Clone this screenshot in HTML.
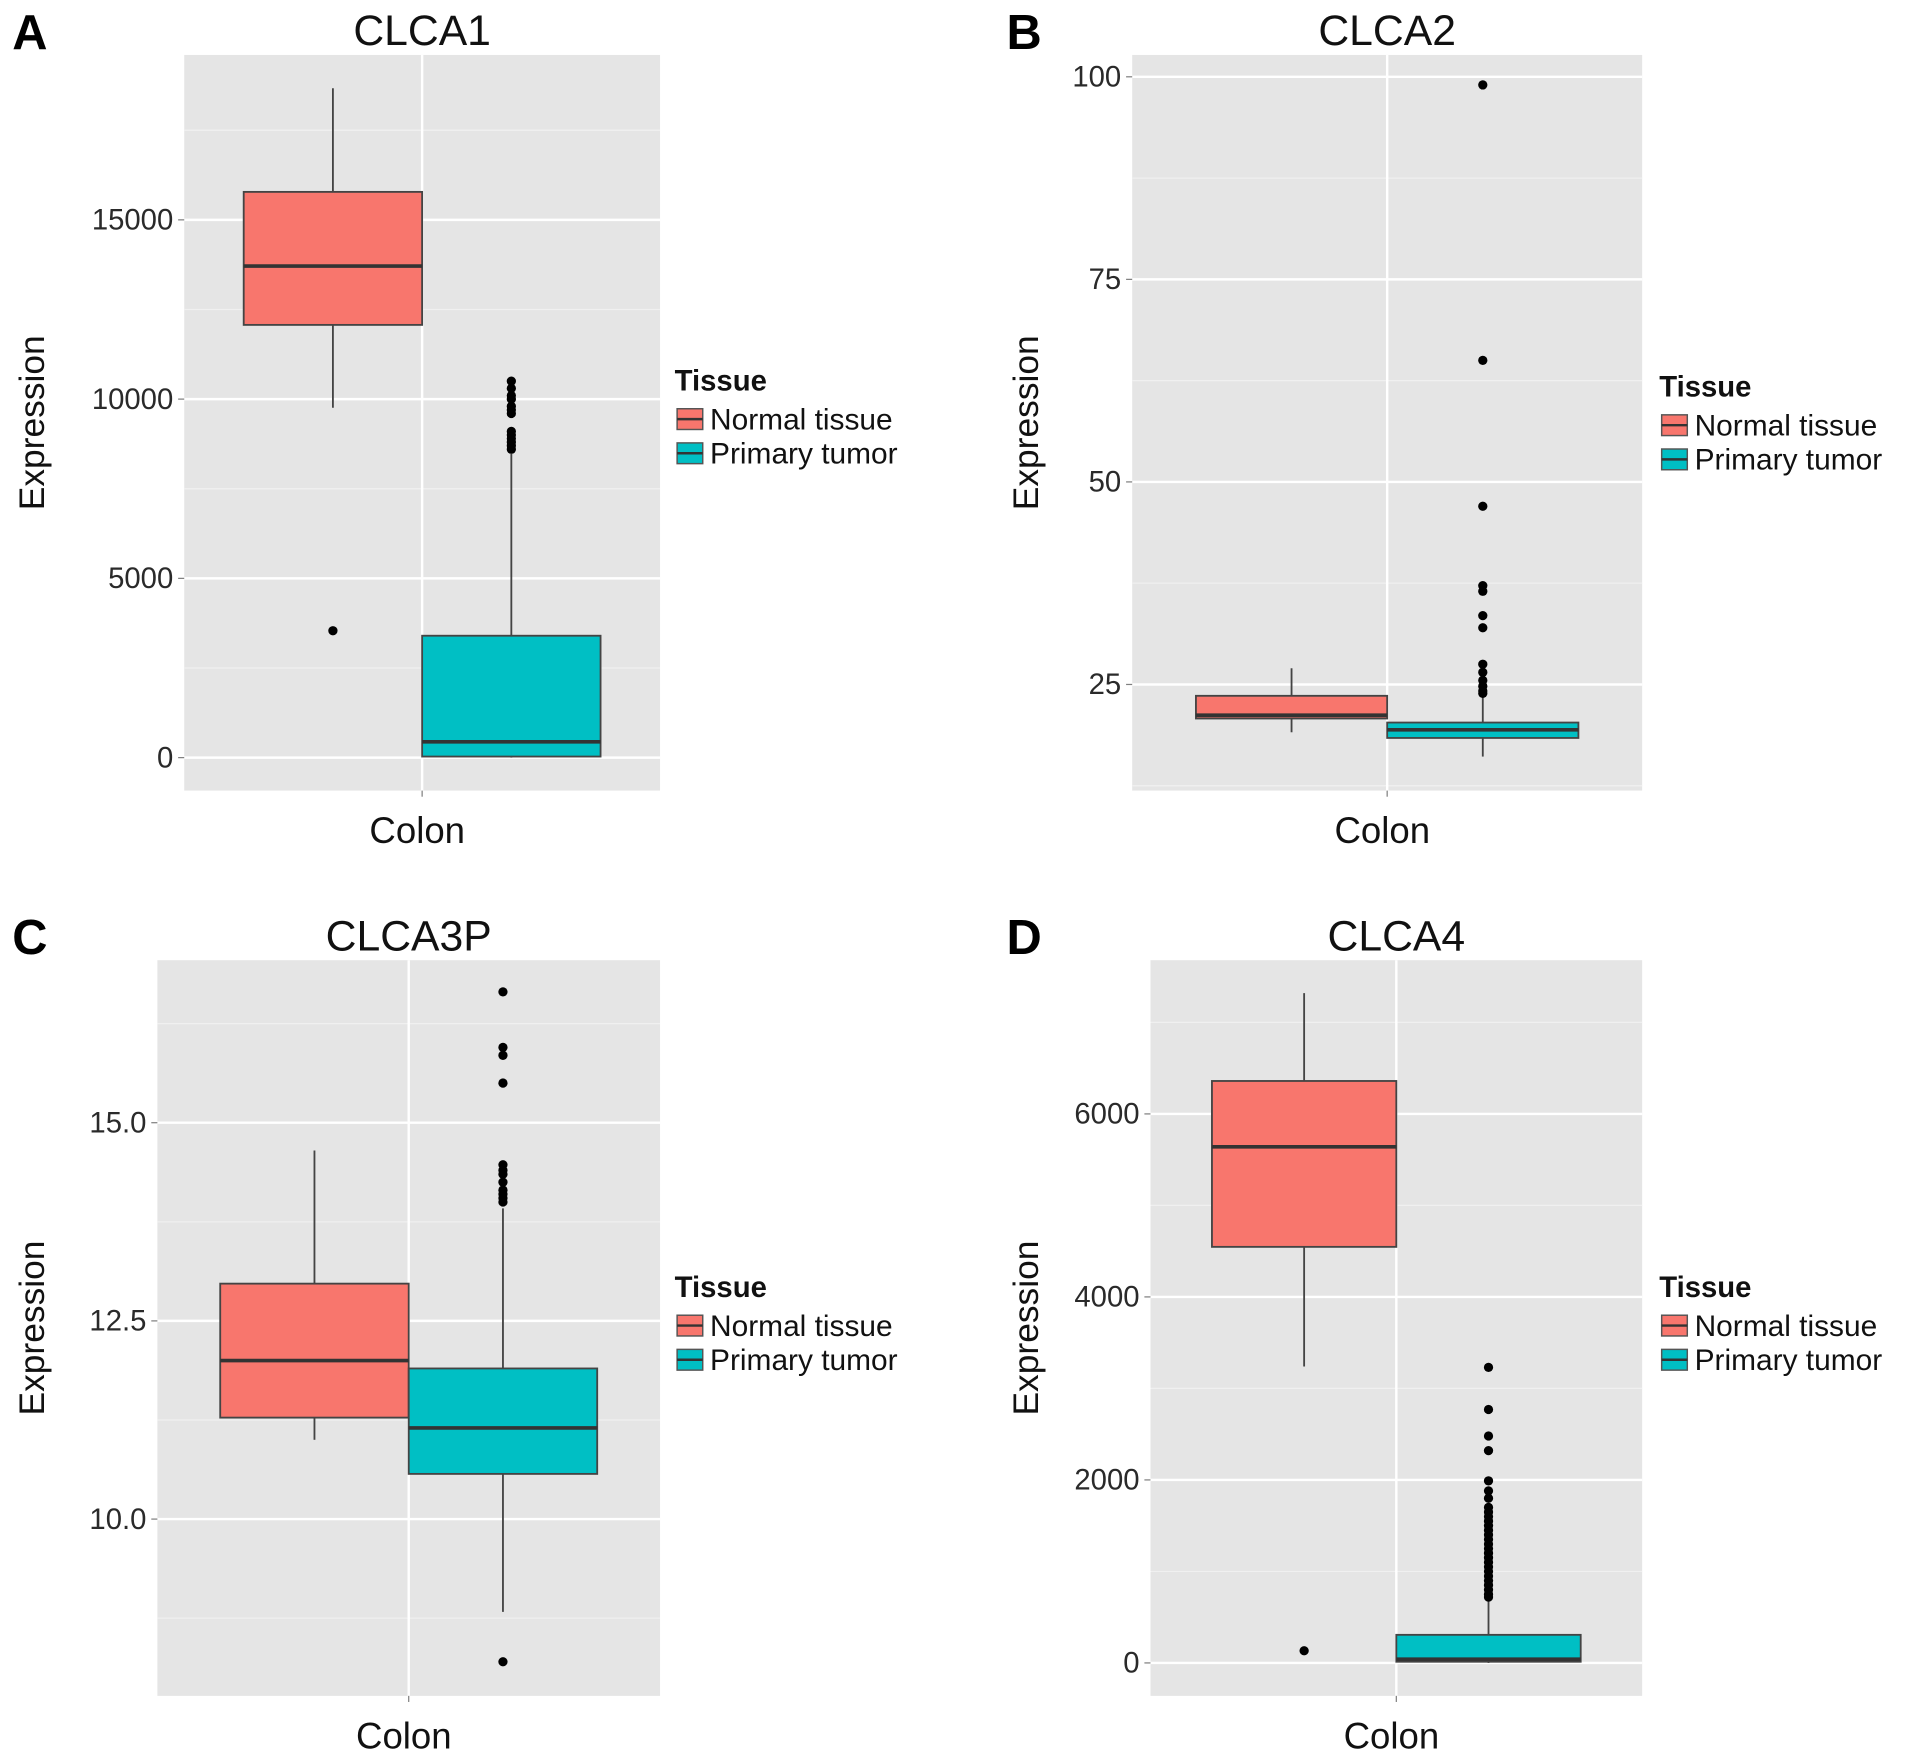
<!DOCTYPE html>
<html><head><meta charset="utf-8"><style>
html,body{margin:0;padding:0;background:#fff}
svg{display:block}
text{font-family:"Liberation Sans","DejaVu Sans",sans-serif}
</style></head><body>
<svg id="fig" width="1913" height="1763" viewBox="0 0 1568 1445" xmlns="http://www.w3.org/2000/svg"></svg>
<script>
// ---- data ----
const panelLetters = ["A","B","C","D"];
const panelTitles = ["CLCA1","CLCA2","CLCA3P","CLCA4"];
const seriesNames = ["Normal tissue","Primary tumor"];
const categories = ["Colon"];
// box stats [whiskerLow, Q1, median, Q3, whiskerHigh]
const normalStats = [
  [9760,12070,13710,15780,18670],
  [19.1,20.8,21.2,23.6,27.0],
  [11.0,11.28,12.0,12.97,14.65],
  [3240,4547,5640,6360,7320]
];
const tumorStats = [
  [0,30,440,3400,8470],
  [16.1,18.4,19.4,20.3,23.6],
  [8.83,10.57,11.15,11.9,13.92],
  [0,13,40,307,707]
];
const normalOutliers = [[3540],[],[],[133]];
const tumorOutliers = [
  [8600,8700,8800,8900,9000,9100,9600,9700,9800,10000,10100,10300,10500],
  [99,65,47,37.2,36.5,33.5,32,27.5,26.5,25.5,24.8,24.2,23.9],
  [16.65,15.95,15.85,15.5,14.47,14.4,14.35,14.25,14.15,14.1,14.05,14.0,8.2],
  [3230,2770,2480,2320,1990,1880,1800,1700,1650,1600,1550,1500,1450,1400,1350,1300,1250,1200,1150,1100,1050,1000,950,900,850,800,750,720]
];
const yTicks = [[0,5000,10000,15000],[25,50,75,100],[10,12.5,15],[0,2000,4000,6000]];
const yTickLabels = [["0","5000","10000","15000"],["25","50","75","100"],["10.0","12.5","15.0"],["0","2000","4000","6000"]];
const yDomains = [[-920,19600],[11.9,102.7],[7.77,17.05],[-360,7680]];
// ---- layout ----
const layouts = [
  {x0:151,x1:541,y0:45,y1:648,letterX:10,legX:553,legY:320},
  {x0:928,x1:1346,y0:45,y1:648,letterX:825,legX:1360,legY:325},
  {x0:129,x1:541,y0:787,y1:1390,letterX:10,legX:553,legY:1063},
  {x0:943,x1:1346,y0:787,y1:1390,letterX:825,legX:1360,legY:1063}
];
const fills = ["#F8766D","#00BFC4"];
const NS="http://www.w3.org/2000/svg";
const svg=document.getElementById('fig');
function mk(tag,attrs,parent,txt){const e=document.createElementNS(NS,tag);for(const k in attrs)e.setAttribute(k,attrs[k]);if(txt!==undefined)e.textContent=txt;(parent||svg).appendChild(e);return e;}

panelLetters.forEach((L,p)=>{
  const lay=layouts[p];const [d0,d1]=yDomains[p];
  const y=v=>lay.y1-(v-d0)/(d1-d0)*(lay.y1-lay.y0);
  const cx=(lay.x0+lay.x1)/2;
  const g=mk('g',{});
  
  
  const bg=mk('rect',{x:lay.x0,y:lay.y0,width:lay.x1-lay.x0,height:lay.y1-lay.y0,fill:'#E5E5E5'},g);
  
  
  const t=yTicks[p];const step=t[1]-t[0];
  for(let v=t[0]-step/2;v<=d1;v+=step){if(v<d0)continue;const yy=y(v);
    const m=mk('line',{x1:lay.x0,x2:lay.x1,y1:yy,y2:yy,stroke:'#F0F0F0','stroke-width':1},g);
    
    }
  t.forEach((v,i)=>{const yy=y(v);
    const gl=mk('line',{x1:lay.x0,x2:lay.x1,y1:yy,y2:yy,stroke:'#fff','stroke-width':2},g);
    
    
    const tk=mk('line',{x1:lay.x0-5,x2:lay.x0,y1:yy,y2:yy,stroke:'#7f7f7f','stroke-width':1},g);
    
    
    const tl=mk('text',{x:lay.x0-9,y:yy+8,'text-anchor':'end','font-size':24,fill:'#2a2a2a'},g,yTickLabels[p][i]);
    
    });
  const vg=mk('line',{x1:cx,x2:cx,y1:lay.y0,y2:lay.y1,stroke:'#fff','stroke-width':2},g);
  
  
  const xt=mk('line',{x1:cx,x2:cx,y1:lay.y1,y2:lay.y1+5,stroke:'#7f7f7f'},g);
  
  
  const bw=(lay.x1-lay.x0)*0.375;
  [normalStats[p],tumorStats[p]].forEach((s,k)=>{
    const bx=k===0?cx-bw:cx;const mx=bx+bw/2;
    const bg2=mk('g',{},g);
    
    
    mk('line',{x1:mx,x2:mx,y1:y(s[4]),y2:y(s[3]),stroke:'#444','stroke-width':1.5},bg2);
    mk('line',{x1:mx,x2:mx,y1:y(s[1]),y2:y(s[0]),stroke:'#444','stroke-width':1.5},bg2);
    mk('rect',{x:bx,y:y(s[3]),width:bw,height:Math.max(1,y(s[1])-y(s[3])),fill:fills[k],stroke:'#444','stroke-width':1.5},bg2);
    mk('line',{x1:bx,x2:bx+bw,y1:y(s[2]),y2:y(s[2]),stroke:'#333','stroke-width':3},bg2);
    const outs=k===0?normalOutliers[p]:tumorOutliers[p];
    outs.forEach(v=>{const c=mk('circle',{cx:mx,cy:y(v),r:3.8,fill:'#000'},bg2);
      
      });
  });
  const lt=mk('text',{x:lay.letterX,y:lay.y0-5,'font-size':40,'font-weight':'bold',fill:'#000'},g,L);
  
  
  const tt=mk('text',{x:cx,y:lay.y0-8,'text-anchor':'middle','font-size':35,fill:'#111'},g,panelTitles[p]);
  
  
  const xl=mk('text',{x:cx-4,y:lay.y1+43,'text-anchor':'middle','font-size':30,fill:'#111'},g,categories[0]);
  
  
  const ym=(lay.y0+lay.y1)/2;const yx=lay.letterX+26;
  const ya=mk('text',{x:yx,y:ym,'text-anchor':'middle','font-size':29,fill:'#111',transform:`rotate(-90 ${yx} ${ym})`},g,'Expression');
  
  
  const lg=mk('g',{},g);
  
  
  const lh=mk('text',{x:lay.legX,y:lay.legY,'font-size':24,'font-weight':'bold',fill:'#111','font-family':'DejaVu Sans, sans-serif'},lg,'Tissue');
  
  
  seriesNames.forEach((n,k)=>{const yy=lay.legY+14+k*28;
    const e=mk('g',{},lg);
    
    
    mk('rect',{x:lay.legX+2,y:yy+1,width:21,height:17,fill:fills[k],stroke:'#555','stroke-width':1.2},e);
    mk('line',{x1:lay.legX+2,x2:lay.legX+23,y1:yy+9.5,y2:yy+9.5,stroke:'#333','stroke-width':2},e);
    mk('text',{x:lay.legX+29,y:yy+18,'font-size':24.5,fill:'#111'},e,n);});
});
</script>
</body></html>
